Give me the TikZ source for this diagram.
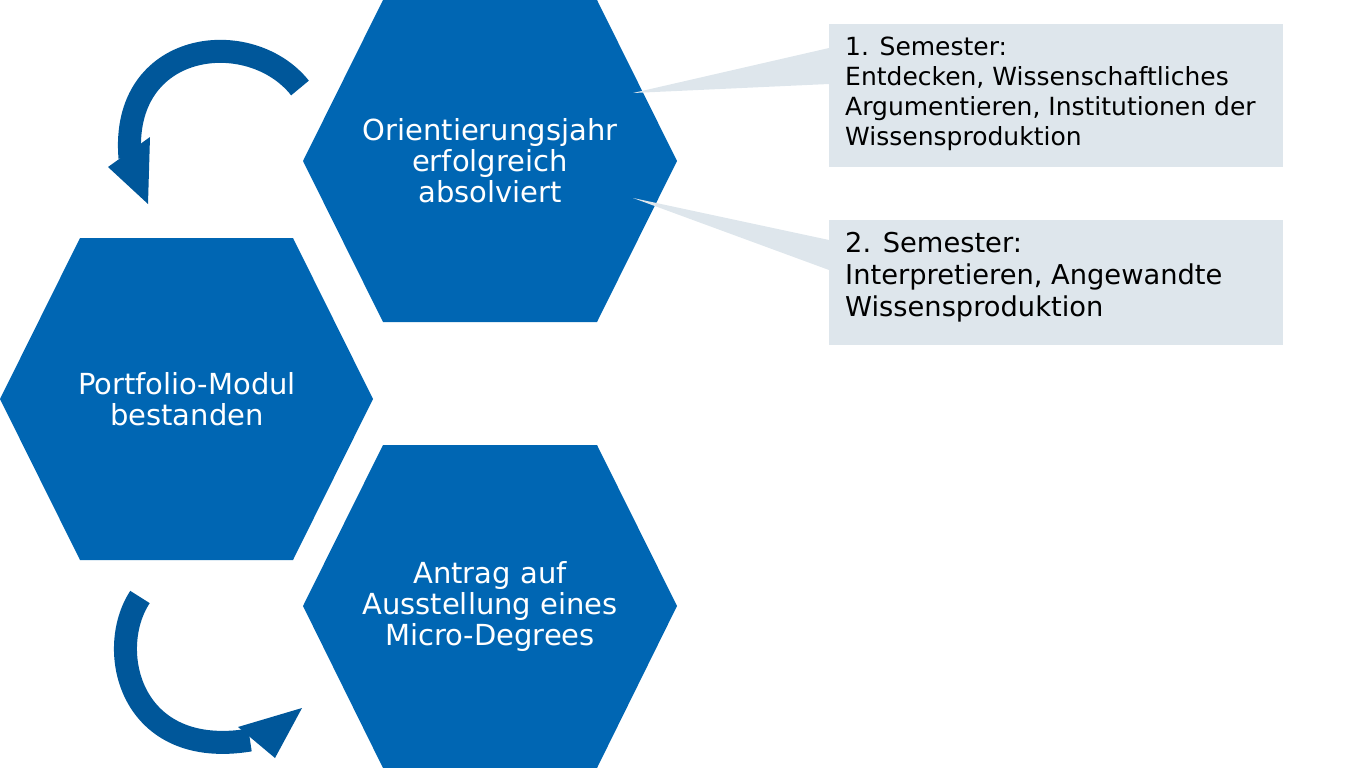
\documentclass[tikz,border=0pt]{standalone}
\usepackage{fontspec}
\setmainfont{DejaVu Sans}
\definecolor{hexblue}{HTML}{0066B3}
\definecolor{arrblue}{HTML}{00579A}
\definecolor{boxgray}{HTML}{DEE6EC}
\begin{document}
\begin{tikzpicture}[x=1pt,y=-1pt,
  hexfill/.style={fill=hexblue},
  hextext/.style={text=white,align=center,inner sep=0pt,font=\fontsize{29}{31}\selectfont},
  box/.style={fill=boxgray,anchor=north west,inner sep=0pt,minimum width=454pt},
  shaft/.style={arrblue,line width=23pt},
  head/.style={fill=arrblue}]
\useasboundingbox (0,0) rectangle (1371,768);
\begin{scope}
\clip (0,0) rectangle (1371,768);
\fill[hexfill] (303,161) -- (383,0) -- (597,0) -- (677,161) -- (597,322) -- (383,322) -- cycle;
\fill[hexfill] (0,399) -- (80,238) -- (293,238) -- (373,399) -- (293,560) -- (80,560) -- cycle;
\fill[hexfill] (303,606) -- (383,445) -- (597,445) -- (677,606) -- (597,768) -- (383,768) -- cycle;
\end{scope}
\node[hextext] (h1) at (490,161) {Orientierungsjahr\\erfolgreich\\absolviert};
\node[hextext] (h2) at (187,399) {Portfolio-Modul\\bestanden};
\node[hextext] (h3) at (490,606) {Antrag auf\\Ausstellung eines\\Micro-Degrees};
% callouts
\node[box,minimum height=143pt] (b1) at (829,24) {};
\node[anchor=north west,inner sep=0pt,font=\fontsize{25}{30}\selectfont,align=left] (t1) at (845,37) {1. Semester:\\Entdecken, Wissenschaftliches\\Argumentieren, Institutionen der\\Wissensproduktion};
\node[box,minimum height=125pt] (b2) at (829,220) {};
\node[anchor=north west,inner sep=0pt,font=\fontsize{27.3}{32}\selectfont,align=left] (t2) at (845,232) {2. Semester:\\Interpretieren, Angewandte\\Wissensproduktion};
\coordinate (p1) at (633,93);
\coordinate (p2) at (633,198);
\fill[boxgray] (p1) -- (829,48) -- (829,84) -- cycle;
\fill[boxgray] (p2) -- (829,240) -- (829,270) -- cycle;
% arrows
\coordinate (a1s) at (300,88);
\coordinate (a1e) at (130,158);
\draw[shaft] (a1s) .. controls (250,25) and (120,40) .. (a1e);
\fill[head] (108,167) -- (148,204) -- (150,137) -- cycle;
\coordinate (a2s) at (140,597);
\coordinate (a2e) at (250,740);
\draw[shaft] (a2s) .. controls (105,650) and (130,760) .. (a2e);
\fill[head] (238,727) -- (302,708) -- (275,758) -- cycle;
\end{tikzpicture}
\end{document}
